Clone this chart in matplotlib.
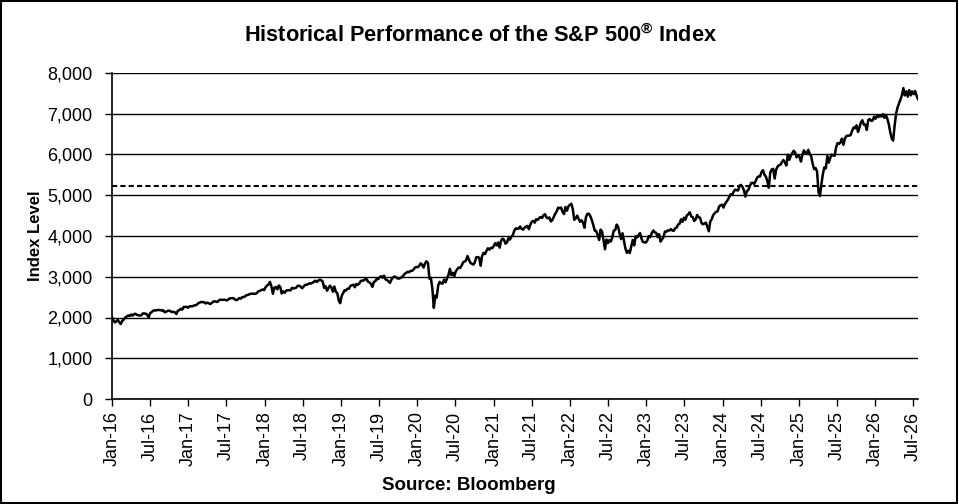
import matplotlib
matplotlib.use("Agg")
import matplotlib.pyplot as plt
import matplotlib.dates as mdates
from matplotlib.patches import Rectangle
import pandas as pd

plt.rcParams['font.family'] = ['Liberation Sans', 'DejaVu Sans']
plt.rcParams['mathtext.fontset'] = 'custom'
plt.rcParams['mathtext.rm'] = 'Liberation Sans:bold'
plt.rcParams['mathtext.bf'] = 'Liberation Sans:bold'

# Weekly (Friday) index levels
y2016 = [2012, 1922, 1880, 1907, 1940, 1880, 1840, 1918, 1948, 1999, 2022, 2050, 2036,
         2073, 2047, 2081, 2091, 2065, 2057, 2047, 2052, 2099, 2099, 2096, 2071, 2000, 2103,
         2130, 2162, 2175, 2173, 2183, 2184, 2183, 2169, 2180, 2128, 2139, 2165, 2168,
         2153, 2133, 2141, 2126, 2085, 2164, 2182, 2213, 2192, 2259, 2258, 2263, 2239]
y2017 = [2277, 2275, 2272, 2295, 2297, 2316, 2351, 2367, 2383, 2373, 2378, 2344, 2363,
         2355, 2329, 2349, 2384, 2399, 2390, 2381, 2416, 2439, 2432, 2433, 2438, 2423,
         2425, 2459, 2472, 2472, 2477, 2441, 2426, 2443, 2477, 2461, 2500, 2502, 2519,
         2549, 2553, 2575, 2581, 2587, 2582, 2579, 2602, 2642, 2651, 2675, 2683, 2673]
y2018 = [2743, 2786, 2810, 2873, 2762, 2581, 2732, 2747, 2691, 2786, 2752, 2588, 2641,
         2604, 2656, 2670, 2670, 2663, 2728, 2713, 2721, 2735, 2779, 2780, 2755, 2718,
         2759, 2801, 2802, 2818, 2840, 2833, 2850, 2875, 2902, 2872, 2905, 2930, 2914,
         2885, 2728, 2768, 2658, 2723, 2781, 2736, 2633, 2760, 2633, 2600, 2417, 2351]
y2019 = [2532, 2596, 2671, 2665, 2707, 2708, 2776, 2793, 2804, 2743, 2822, 2800, 2834,
         2893, 2907, 2905, 2940, 2946, 2881, 2860, 2826, 2752, 2873, 2887, 2950, 2942,
         2990, 3014, 2977, 3026, 2932, 2919, 2889, 2847, 2926, 2979, 3007, 2992, 2962,
         2952, 2970, 2986, 3023, 3067, 3093, 3120, 3110, 3141, 3146, 3169, 3221, 3240]
y2020 = [3235, 3265, 3330, 3295, 3226, 3328, 3380, 3338, 2954, 2972, 2711, 2237, 2541,
         2489, 2790, 2875, 2837, 2831, 2930, 2864, 2955, 3044, 3194, 3041, 3098, 3009,
         3130, 3185, 3225, 3216, 3271, 3351, 3373, 3397, 3508, 3427, 3341, 3319, 3298,
         3348, 3477, 3484, 3465, 3270, 3510, 3585, 3558, 3638, 3699, 3663, 3709, 3703]
y2021 = [3756, 3825, 3768, 3841, 3714, 3887, 3934, 3907, 3811, 3842, 3943, 3913, 3975,
         4020, 4129, 4185, 4180, 4181, 4233, 4174, 4156, 4204, 4230, 4247, 4166, 4281,
         4352, 4370, 4327, 4412, 4395, 4437, 4468, 4442, 4509, 4535, 4459, 4433, 4455,
         4357, 4391, 4471, 4545, 4605, 4697, 4683, 4698, 4595, 4538, 4712, 4621, 4726, 4766]
y2022 = [4790, 4663, 4398, 4432, 4500, 4419, 4349, 4385, 4329, 4204, 4463, 4543,
         4546, 4488, 4393, 4272, 4132, 4123, 4024, 3901, 4158, 4109, 3901, 3675, 3912,
         3825, 3899, 3863, 3962, 4130, 4145, 4280, 4228, 4058, 3924, 4067, 3873, 3693, 3586,
         3639, 3583, 3753, 3901, 3771, 3993, 3965, 4026, 4072, 3934, 3852, 3845, 3840]
y2023 = [3895, 3999, 3973, 4071, 4136, 4090, 4079, 3970, 4045, 3862, 3917, 3971, 4109,
         4105, 4138, 4133, 4169, 4136, 4124, 4192, 4205, 4282, 4299, 4410, 4348, 4450,
         4399, 4505, 4536, 4582, 4478, 4464, 4370, 4406, 4516, 4457, 4450, 4320, 4288,
         4308, 4327, 4224, 4117, 4358, 4415, 4514, 4559, 4595, 4604, 4719, 4754, 4770]
y2024 = [4697, 4784, 4840, 4891, 4959, 5027, 5006, 5089, 5137, 5124, 5117, 5234, 5254,
         5204, 5123, 4967, 5100, 5128, 5223, 5304, 5305, 5278, 5347, 5431, 5464, 5460,
         5567, 5615, 5505, 5459, 5346, 5186, 5554, 5634, 5648, 5408, 5626, 5703, 5738,
         5751, 5815, 5864, 5808, 5729, 5996, 5870, 5969, 6032, 6090, 6051, 5931, 5971]
y2025 = [5942, 5827, 5997, 6101, 6041, 6026, 6115, 6013, 5955, 5770, 5639, 5668, 5581,
         5074, 4982, 5283, 5525, 5687, 5660, 5958, 5803, 5912, 6000, 5977, 5968, 6173,
         6279, 6260, 6297, 6389, 6238, 6389, 6450, 6467, 6460, 6482, 6584, 6664, 6644,
         6716, 6553, 6664, 6792, 6840, 6729, 6734, 6603, 6849, 6870, 6827, 6834, 6930]
y2026 = [6880, 6950, 6920, 6960, 6930, 6990, 6900, 6970, 6880, 6750, 6550, 6400, 6340,
         6700, 7000, 7150, 7250, 7350, 7450, 7630, 7450, 7550, 7420, 7580, 7450, 7550,
         7480, 7560, 7450, 7360]

levels = y2016 + y2017 + y2018 + y2019 + y2020 + y2021 + y2022 + y2023 + y2024 + y2025 + y2026
start_date = '2016-01-01'
dates = pd.date_range(start_date, periods=len(levels), freq='W-FRI')
reference_level = 5230

title_text = r"Historical Performance of the S&P 500$^{\circledR}$ Index"
ylabel_text = "Index Level"
source_text = "Source: Bloomberg"
yticks = [0, 1000, 2000, 3000, 4000, 5000, 6000, 7000, 8000]

fig = plt.figure(figsize=(9.59, 5.04), dpi=100)
ax = fig.add_axes([112/959, 1-399/504, (918-112)/959, (399-73)/504])

ax.plot(dates, levels, color='black', lw=1.8, zorder=3)
ax.axhline(reference_level, color='black', lw=1.5, ls=(0, (2.5, 1.5)), zorder=2)

ax.set_ylim(0, 8000)
ax.set_yticks(yticks)
ax.set_yticklabels([f"{v:,}" for v in yticks])
ax.yaxis.grid(True, color='black', lw=1.0)
ax.set_axisbelow(True)

ax.set_xlim(pd.Timestamp(start_date), dates[-1])
ax.xaxis.set_major_locator(mdates.MonthLocator(bymonth=[1, 7]))
ax.xaxis.set_major_formatter(mdates.DateFormatter('%b-%y'))
ax.tick_params(axis='x', labelrotation=90, labelsize=13, length=5, width=1, pad=4, direction='out')
ax.tick_params(axis='y', labelsize=13, length=5, width=1, pad=9, direction='out')

for s in ['top', 'right']:
    ax.spines[s].set_visible(False)
for s in ['left', 'bottom']:
    ax.spines[s].set_color('black')
    ax.spines[s].set_linewidth(1.2)

ax.set_ylabel(ylabel_text, fontsize=12, fontweight='bold')
ax.yaxis.set_label_coords(-0.086, 0.5)

fig.text(0.5016, 1-35/504, title_text, ha='center', va='center', fontsize=15.7, fontweight='bold')
fig.text(469/959, 1-486/504, source_text, ha='center', va='center', fontsize=13.5, fontweight='bold')

fig.patches.append(Rectangle((0.001, 0.002), 0.997, 0.996, transform=fig.transFigure,
                             fill=False, edgecolor='black', lw=1.5))

fig.savefig('out.png', dpi=100)
